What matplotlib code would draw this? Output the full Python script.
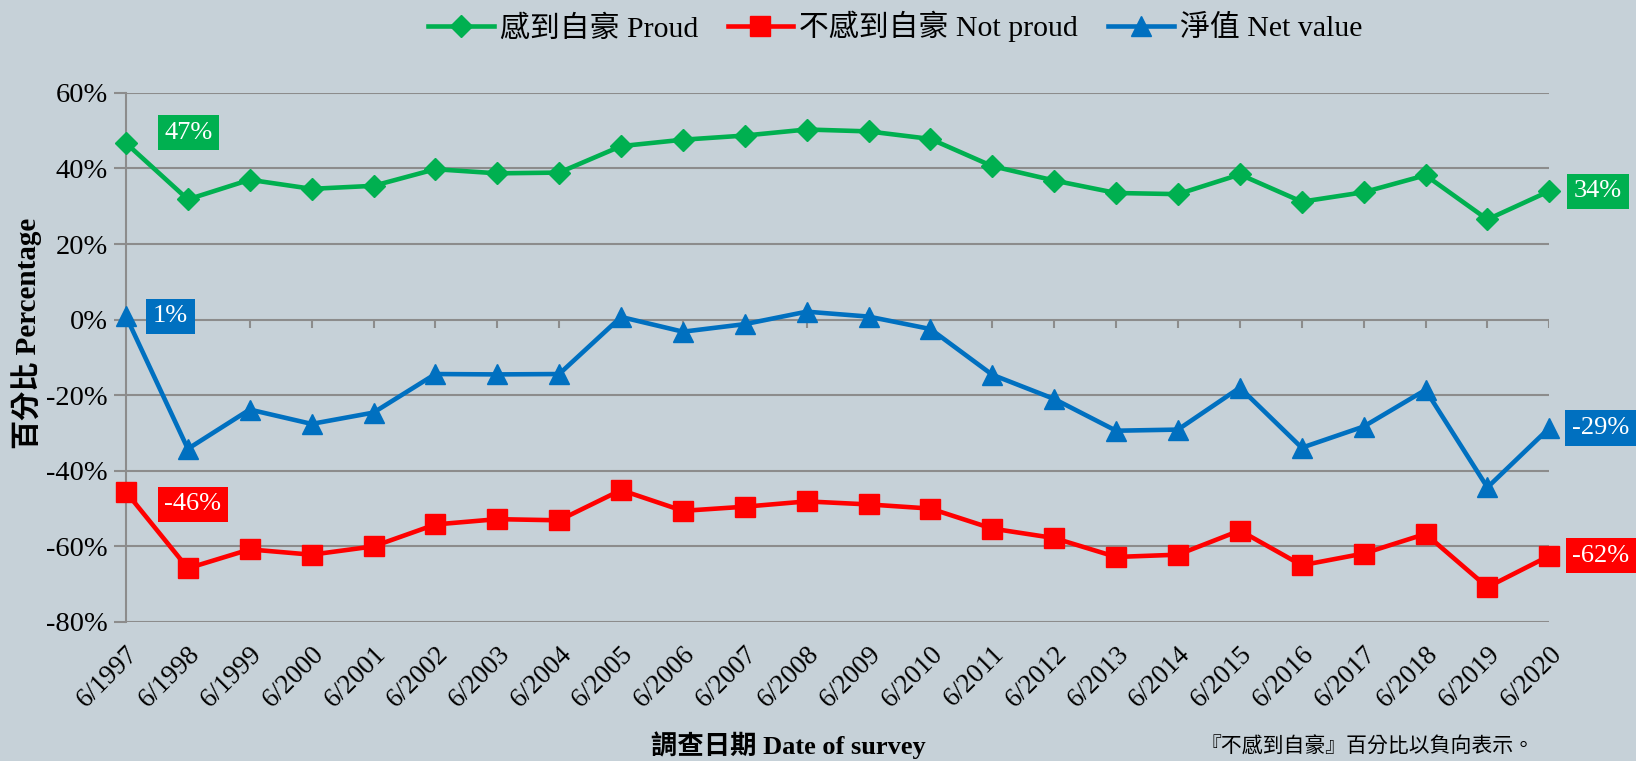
import matplotlib
matplotlib.use("Agg")
import matplotlib.pyplot as plt
import numpy as np

years = [str(y) for y in range(1997, 2021)]
tick_labels = ["6/" + y for y in years]
proud = [46.7, 31.8, 37.0, 34.6, 35.4, 39.8, 38.7, 38.9, 45.9, 47.6, 48.7, 50.3,
         49.8, 47.8, 40.6, 36.8, 33.5, 33.2, 38.4, 31.2, 33.7, 38.2, 26.5, 34.0]
not_proud = [-45.6, -65.8, -60.8, -62.2, -60.0, -54.2, -52.8, -53.1, -45.1, -50.6, -49.5, -48.1,
             -48.9, -50.0, -55.3, -57.8, -62.8, -62.2, -55.8, -65.0, -61.9, -56.7, -70.8, -62.5]
net = [0.9, -34.2, -23.8, -27.6, -24.6, -14.4, -14.5, -14.4, 0.7, -3.2, -1.2, 2.1,
       0.8, -2.5, -14.6, -21.0, -29.4, -29.1, -18.0, -33.9, -28.3, -18.6, -44.4, -28.7]
series_names = ["感到自豪 Proud", "不感到自豪 Not proud", "淨值 Net value"]
yticks = [-80, -60, -40, -20, 0, 20, 40, 60]

GREEN, RED, BLUE = "#00B050", "#FF0000", "#0070C0"
BG = "#C6D1D8"
GRID = "#8C8C8C"
SERIF = ["Liberation Serif", "Noto Sans CJK TC"]

fig = plt.figure(figsize=(16.36, 7.61), dpi=100, facecolor=BG)
ax = fig.add_axes([0.077, 0.1827, 0.870, 0.6953], facecolor=BG)
x = np.arange(len(years))

l1, = ax.plot(x, proud, color=GREEN, lw=3.3, marker="D", ms=11.5, label=series_names[0],
              zorder=4, clip_on=False)
l2, = ax.plot(x, not_proud, color=RED, lw=3.3, marker="s", ms=14, label=series_names[1],
              zorder=4, clip_on=False)
l3, = ax.plot(x, net, color=BLUE, lw=3.3, marker="^", ms=15, label=series_names[2],
              zorder=4, clip_on=False)

ax.set_xlim(x[0], x[-1])
ax.set_ylim(-80, 60)
ax.set_yticks(yticks)
ax.set_yticklabels([f"{v}%" for v in yticks], fontsize=20.5, family=SERIF)
for v in yticks:
    ax.axhline(v, color=GRID, lw=1.5, zorder=1)
for s in ["top", "right", "bottom"]:
    ax.spines[s].set_visible(False)
ax.spines["left"].set_color(GRID)
ax.spines["left"].set_linewidth(1.5)
ax.tick_params(axis="y", length=9, width=1.5, color=GRID, pad=4)
ax.set_xticks(x)
ax.set_xticklabels(tick_labels, rotation=45, ha="right", rotation_mode="anchor",
                   fontsize=19.5, family=SERIF)
ax.tick_params(axis="x", length=0, pad=14)
# tick marks on the zero line
ax.vlines(x, -2.3, 0, color=GRID, lw=1.5, zorder=1)

def tag(xv, yv, text, color, dx, dy):
    ax.annotate(text, (xv, yv), xytext=(dx, dy), textcoords="offset points",
                color="white", fontsize=19, family=SERIF, ha="center", va="center",
                bbox=dict(boxstyle="square,pad=0.25", fc=color, ec="none"), zorder=5,
                annotation_clip=False)

tag(x[0], proud[0], "47%", GREEN, 45, 7.5)
tag(x[0], net[0], "1%", BLUE, 32, 0)
tag(x[0], not_proud[0], "-46%", RED, 48, -9)
tag(x[-1], proud[-1], "34%", GREEN, 35, 0)
tag(x[-1], net[-1], "-29%", BLUE, 37, 0)
tag(x[-1], not_proud[-1], "-62%", RED, 37, 0)

ax.set_ylabel("百分比 Percentage", fontsize=21, fontweight="bold", family=SERIF)
ax.yaxis.set_label_coords(-0.059, 0.545)

fig.text(0.482, 0.002, "調查日期 Date of survey", fontsize=19, fontweight="bold",
         family=SERIF, ha="center", va="bottom")
fig.text(0.938, 0.004, "『不感到自豪』百分比以負向表示。", fontsize=15,
         family=["Noto Sans CJK TC", "DejaVu Sans"], ha="right", va="bottom")

leg = fig.legend(handles=[l1, l2, l3], loc="center", bbox_to_anchor=(0.547, 0.965),
                 ncol=3, frameon=False, prop=dict(family=SERIF, size=21.5),
                 handlelength=2.2, columnspacing=1.0, handletextpad=0.2)

fig.savefig("out.png", dpi=100, facecolor=BG)
